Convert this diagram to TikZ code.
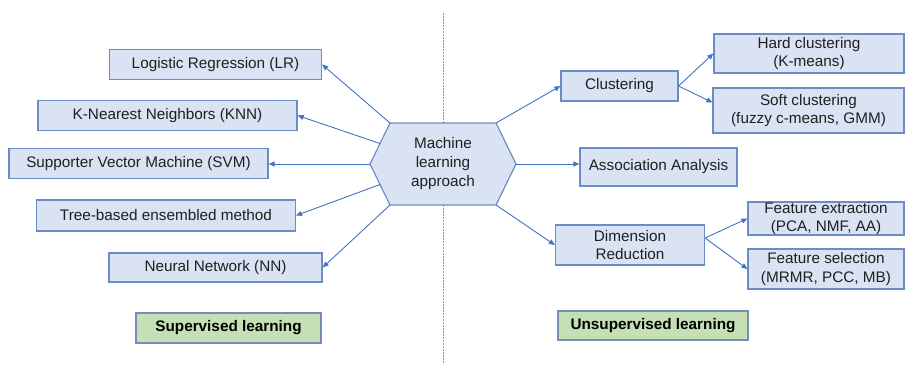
\documentclass[tikz,border=0pt]{standalone}
\usepackage{fontspec}
\setmainfont{Liberation Sans}
\usetikzlibrary{arrows.meta}
\definecolor{boxfill}{RGB}{218,227,243}
\definecolor{boxline}{RGB}{110,140,196}
\definecolor{arrowblue}{RGB}{68,114,196}
\definecolor{greenfill}{RGB}{197,224,180}
\definecolor{greenline}{RGB}{120,140,180}
\definecolor{dotblue}{RGB}{120,152,212}
\begin{document}
\begin{tikzpicture}[x=1pt,y=-1pt,
  lbl/.style={font=\fontsize{15.3}{18.5}\selectfont},
  box/.style={lbl,draw=boxline,fill=boxfill,line width=1.2pt,inner sep=0pt,align=center,text=black!88},
  tagbox/.style={draw=greenline,fill=greenfill,line width=1.2pt,inner sep=0pt,align=center,
    font=\fontsize{15.3}{18.5}\selectfont\bfseries},
  arr/.style={draw=arrowblue,line width=0.9pt,-{Triangle[length=6pt,width=5pt]}},
  divider/.style={draw=dotblue,line width=1pt,dash pattern=on 1.5pt off 1.5pt}]
\useasboundingbox (0,0) rectangle (907,365);

% central dividing line
\coordinate (dtop) at (443,13);
\coordinate (dbot) at (443,363);
\draw[divider] (dtop) -- (dbot);

% central hexagon
\coordinate (hTL) at (390,123);
\coordinate (hTR) at (496,123);
\coordinate (hR)  at (516,164);
\coordinate (hBR) at (496,205);
\coordinate (hBL) at (390,205);
\coordinate (hL)  at (370,164);
\coordinate (hUL) at (380,143.5);
\coordinate (hLL) at (380,184.5);
\filldraw[draw=boxline,fill=boxfill,line width=1.2pt,line join=miter]
  (hTL) -- (hTR) -- (hR) -- (hBR) -- (hBL) -- (hL) -- cycle;
\node[lbl,align=center,inner sep=0pt,text=black!88,font=\fontsize{15.3}{19}\selectfont] (hex) at (443,164) {Machine\\learning\\approach};

% supervised methods
\node[box,minimum width=212pt,minimum height=30pt] (lr)   at (215.5,64.5) {Logistic Regression (LR)};
\node[box,minimum width=259pt,minimum height=30pt] (knn)  at (167.5,115.5) {K-Nearest Neighbors (KNN)};
\node[box,minimum width=259pt,minimum height=30pt] (svm)  at (138.5,163.5) {Supporter Vector Machine (SVM)};
\node[box,minimum width=259pt,minimum height=31pt] (tree) at (166,215.5) {Tree-based ensembled method};
\node[box,minimum width=213pt,minimum height=29pt] (nn)   at (215.5,267.5) {Neural Network (NN)};

% unsupervised methods
\node[box,minimum width=117pt,minimum height=30pt] (clus)  at (619.5,86) {Clustering};
\node[box,minimum width=190pt,minimum height=39pt] (hard)  at (809,53.5) {Hard clustering\\(K-means)};
\node[box,minimum width=191pt,minimum height=45pt] (soft)  at (808.5,110.5) {Soft clustering\\(fuzzy c-means, GMM)};
\node[box,minimum width=157pt,minimum height=38pt] (assoc) at (658.5,167) {Association Analysis};
\node[box,minimum width=149pt,minimum height=40pt] (dim)   at (630,245) {Dimension\\Reduction};
\node[box,minimum width=156pt,minimum height=33pt] (fe)    at (826,218.5) {Feature extraction\\(PCA, NMF, AA)};
\node[box,minimum width=156pt,minimum height=40pt] (fs)    at (826,269) {Feature selection\\(MRMR, PCC, MB)};

% category labels
\node[tagbox,minimum width=185pt,minimum height=30pt] (sup)   at (228.5,328) {Supervised learning};
\node[tagbox,minimum width=190pt,minimum height=29pt] (unsup) at (653,325.5) {Unsupervised learning};

% connectors
\draw[arr] (hTL) -- (lr.east);
\draw[arr] (hUL) -- (knn.east);
\draw[arr] (hL)  -- (hL -| svm.east);
\draw[arr] (hLL) -- (tree.east);
\draw[arr] (hBL) -- (nn.east);

\draw[arr] (hTR) -- (clus.west);
\draw[arr] (hR)  -- (hR -| assoc.west);
\draw[arr] (hBR) -- (dim.west);

\draw[arr] (clus.east) -- (hard.west);
\draw[arr] (clus.east) -- ([yshift=8pt]soft.west);
\draw[arr] ([yshift=7pt]dim.east) -- (fe.west);
\draw[arr] ([yshift=7pt]dim.east) -- (fs.west);
\end{tikzpicture}
\end{document}
